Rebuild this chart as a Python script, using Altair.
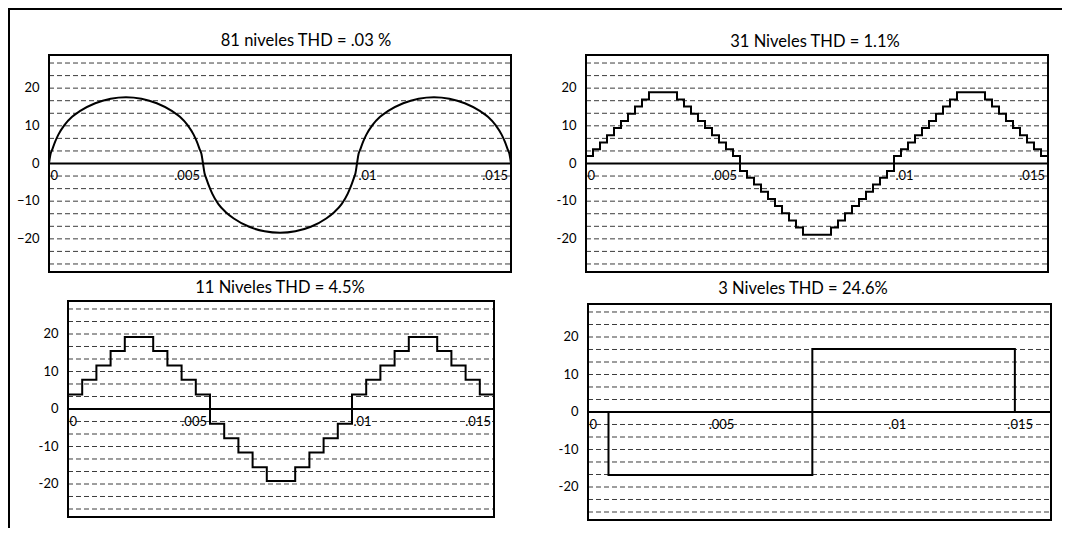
import altair as alt
import pandas as pd

# ---------------- data ----------------
TITLES = [
    "81 niveles THD = .03 %",
    "31 Niveles THD = 1.1%",
    "11 Niveles THD = 4.5%",
    "3 Niveles THD = 24.6%",
]

X_TICKS = [0, 0.005, 0.01, 0.015]
X_LABELS = ["0", ".005", ".01", ".015"]
Y_LABELS = [-20, -10, 0, 10, 20]
Y_GRID = [-26.67, -23.33, -20, -16.67, -13.33, -10, -6.67, -3.33,
          3.33, 6.67, 10, 13.33, 16.67, 20, 23.33, 26.67]
Y_MAX = 28.8

# 81 levels (almost smooth), time in ms
P1_T = [0, 0.05, 0.1, 0.2, 0.3, 0.5, 0.75, 1.0, 1.5, 2.0, 2.5, 3.0, 3.5, 4.0, 4.25, 4.5, 4.7, 4.8, 4.9, 4.95,
        5.0, 5.05, 5.1, 5.2, 5.3, 5.5, 5.75, 6.0, 6.5, 7.0, 7.5, 8.0, 8.5, 9.0, 9.25, 9.5, 9.7, 9.8, 9.9, 9.95,
        10.0, 10.05, 10.1, 10.2, 10.3, 10.5, 10.75, 11.0, 11.5, 12.0, 12.5, 13.0, 13.5, 14.0, 14.25, 14.5,
        14.7, 14.8, 14.9, 14.95, 15.0]
P1_V = [0, 2.5, 3.6, 5.8, 7.6, 10.2, 12.4, 13.9, 16.0, 17.2, 17.6, 17.2, 16.0, 13.9, 12.4, 10.2, 7.6, 5.8,
        3.6, 2.5,
        0, -2.6, -3.8, -6.1, -8.0, -10.8, -13.0, -14.6, -16.8, -18.0, -18.4, -18.0, -16.8, -14.6, -13.0,
        -10.8, -8.0, -6.1, -3.8, -2.6,
        0, 2.5, 3.6, 5.8, 7.6, 10.2, 12.4, 13.9, 16.0, 17.2, 17.6, 17.2, 16.0, 13.9, 12.4, 10.2, 7.6, 5.8,
        3.6, 2.5, 0]

# 31 levels staircase (step starts), time in ms
P2_T = [0, 0.227, 0.455, 0.682, 0.909, 1.136, 1.364, 1.591, 1.818, 2.045, 2.955, 3.182, 3.409, 3.636,
        3.864, 4.091, 4.318, 4.545, 4.773,
        5.0, 5.227, 5.455, 5.682, 5.909, 6.136, 6.364, 6.591, 6.818, 7.045, 7.955, 8.182, 8.409, 8.636,
        8.864, 9.091, 9.318, 9.545, 9.773,
        10.0, 10.227, 10.455, 10.682, 10.909, 11.136, 11.364, 11.591, 11.818, 12.045, 12.955, 13.182,
        13.409, 13.636, 13.864, 14.091, 14.318, 14.545, 14.773, 15.0]
P2_V = [2.0, 3.8, 5.6, 7.5, 9.4, 11.3, 13.2, 15.1, 17.0, 18.9, 17.0, 15.1, 13.2, 11.3, 9.4, 7.5, 5.6, 3.8, 2.0,
        -2.0, -3.8, -5.6, -7.5, -9.4, -11.3, -13.2, -15.1, -17.0, -18.9, -17.0, -15.1, -13.2, -11.3, -9.4,
        -7.5, -5.6, -3.8, -2.0,
        2.0, 3.8, 5.6, 7.5, 9.4, 11.3, 13.2, 15.1, 17.0, 18.9, 17.0, 15.1, 13.2, 11.3, 9.4, 7.5, 5.6, 3.8,
        2.0, 2.0]

# 11 levels staircase, time in ms
P3_T = [0, 0.5, 1.0, 1.5, 2.0, 3.0, 3.5, 4.0, 4.5, 5.0, 5.5, 6.0, 6.5, 7.0, 8.0, 8.5, 9.0, 9.5,
        10.0, 10.5, 11.0, 11.5, 12.0, 13.0, 13.5, 14.0, 14.5, 15.0]
P3_V = [3.9, 7.8, 11.6, 15.5, 19.2, 15.5, 11.6, 7.8, 3.9, -3.9, -7.8, -11.6, -15.5, -19.2, -15.5, -11.6,
        -7.8, -3.9, 3.9, 7.8, 11.6, 15.5, 19.2, 15.5, 11.6, 7.8, 3.9, 3.9]

# 3 levels square wave, time in ms
P4_T = [0, 0.686, 7.51, 14.29]
P4_V = [0, -16.8, 16.8, 0]

# ---------------- layout (pixels inside the drawing) ----------------
W, H = 1054, 520
PANELS = [
    dict(x0=41, x1=503, y0=47, y1=264, xmax=0.015, interp="monotone", minus="\u2212", title=(298, 37.5)),
    dict(x0=578, x1=1040, y0=47, y1=264, xmax=0.015, interp="step-after", minus="-", title=(807, 38.5)),
    dict(x0=60, x1=486, y0=293, y1=509, xmax=0.015, interp="step-after", minus="-", title=(272, 285)),
    dict(x0=580, x1=1043, y0=296, y1=512, xmax=0.0155, interp="step-after", minus="-", title=(795, 285.5)),
]

FONT = "Lato"
ONE = pd.DataFrame({"k": [0]})


def xs(P):
    return alt.Scale(domain=[0, P["xmax"]], range=[P["x0"], P["x1"]], nice=False, zero=False)


def ys(P):
    return alt.Scale(domain=[-Y_MAX, Y_MAX], range=[P["y1"], P["y0"]], nice=False, zero=False)


def panel_layers(t_ms, vals, title, P):
    layers = []
    # dashed grid
    layers.append(
        alt.Chart(pd.DataFrame({"g": Y_GRID})).mark_rule(
            color="#3c3c3c", strokeWidth=1, strokeDash=[5, 3]
        ).encode(y=alt.Y("g:Q", scale=ys(P), axis=None), x=alt.value(P["x0"]), x2=alt.value(P["x1"]))
    )
    # zero line
    layers.append(
        alt.Chart(pd.DataFrame({"z": [0]})).mark_rule(color="black", strokeWidth=2).encode(
            y=alt.Y("z:Q", scale=ys(P), axis=None), x=alt.value(P["x0"]), x2=alt.value(P["x1"]))
    )
    # waveform
    df = pd.DataFrame({"t": [x / 1000.0 for x in t_ms], "v": vals})
    layers.append(
        alt.Chart(df).mark_line(color="black", strokeWidth=2, interpolate=P["interp"]).encode(
            x=alt.X("t:Q", scale=xs(P), axis=None),
            y=alt.Y("v:Q", scale=ys(P), axis=None),
        )
    )
    # frame
    layers.append(
        alt.Chart(ONE).mark_rect(fillOpacity=0, stroke="black", strokeWidth=2).encode(
            x=alt.value(P["x0"]), x2=alt.value(P["x1"]), y=alt.value(P["y0"]), y2=alt.value(P["y1"]))
    )
    # y tick labels
    ylab = pd.DataFrame({"v": Y_LABELS, "s": [str(v).replace("-", P["minus"]) for v in Y_LABELS]})
    layers.append(
        alt.Chart(ylab).mark_text(font=FONT, fontSize=13, color="black", align="right", baseline="middle").encode(
            y=alt.Y("v:Q", scale=ys(P), axis=None), x=alt.value(P["x0"] - 9.5), text="s:N")
    )
    # x tick labels: first and third sit right of the tick, second and fourth left of it
    for idx, align, dx in (([0, 2], "left", 1.5), ([1, 3], "right", -3)):
        xl = pd.DataFrame({
            "t": [X_TICKS[i] for i in idx],
            "s": [X_LABELS[i] for i in idx],
            "z": [0 for _ in idx],
        })
        layers.append(
            alt.Chart(xl).mark_text(font=FONT, fontSize=13, color="black", align=align,
                                    baseline="middle", dx=dx, dy=12.5).encode(
                x=alt.X("t:Q", scale=xs(P), axis=None),
                y=alt.Y("z:Q", scale=ys(P), axis=None),
                text="s:N",
            )
        )
    # title
    layers.append(
        alt.Chart(pd.DataFrame({"s": [title]})).mark_text(
            font=FONT, fontSize=16.5, color="black", align="center", baseline="alphabetic"
        ).encode(text="s:N", x=alt.value(P["title"][0]), y=alt.value(P["title"][1]))
    )
    return layers


SERIES = [(P1_T, P1_V), (P2_T, P2_V), (P3_T, P3_V), (P4_T, P4_V)]
all_layers = []
for (t, v), ttl, P in zip(SERIES, TITLES, PANELS):
    all_layers.extend(panel_layers(t, v, ttl, P))

# outer frame of the figure (top and left edges)
all_layers.append(alt.Chart(ONE).mark_rule(color="black", strokeWidth=2).encode(
    x=alt.value(0), x2=alt.value(W), y=alt.value(1)))
all_layers.append(alt.Chart(ONE).mark_rule(color="black", strokeWidth=2).encode(
    x=alt.value(1), y=alt.value(0), y2=alt.value(H)))

chart = alt.layer(*all_layers).resolve_scale(
    x="independent", y="independent"
).properties(
    width=W, height=H, padding=0, autosize="none", background="white"
).configure_view(stroke=None)

chart.save("out.html", embed_options={"renderer": "svg", "actions": False})
